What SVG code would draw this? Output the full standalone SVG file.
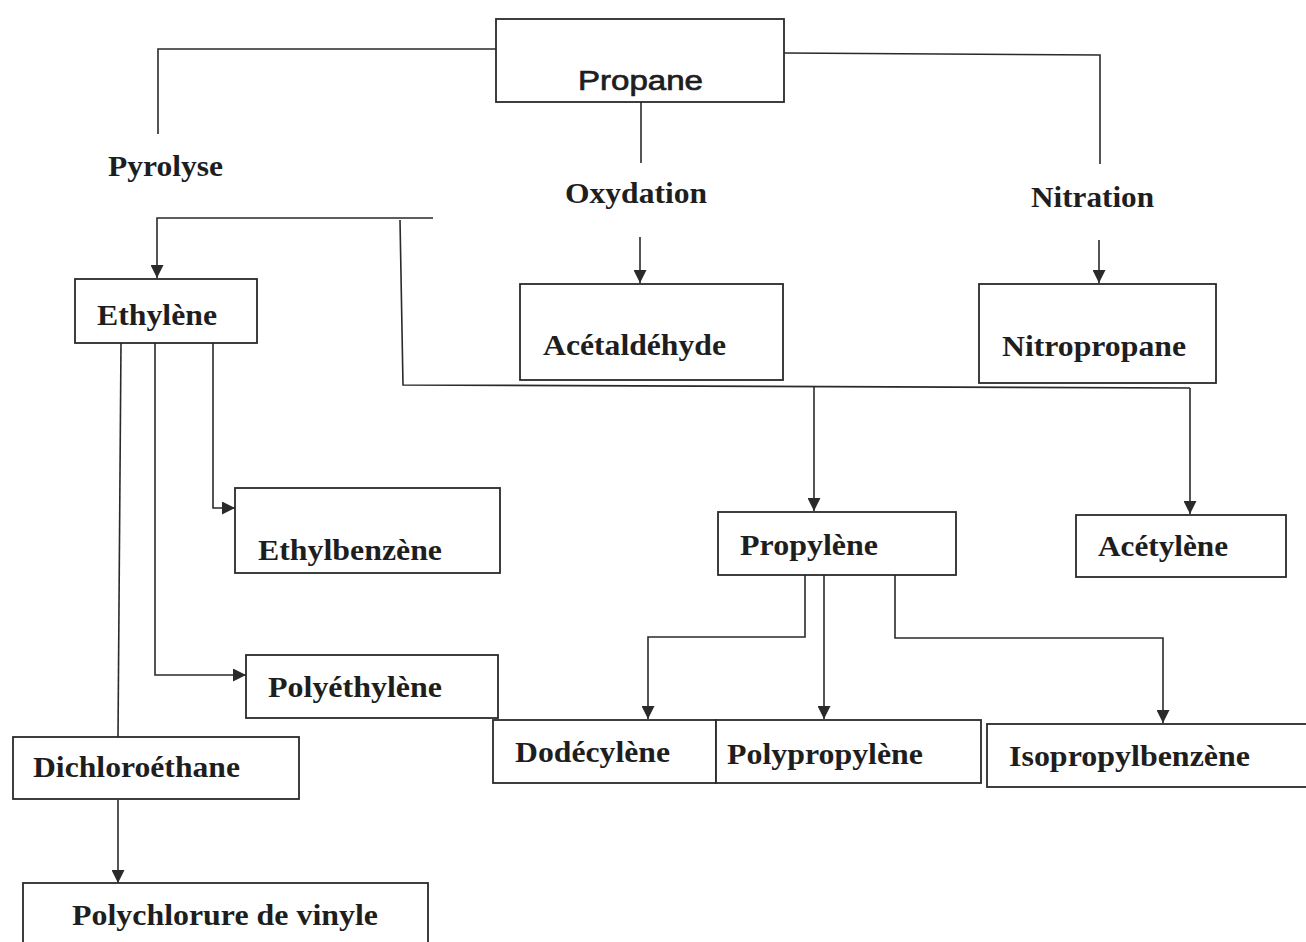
<svg xmlns="http://www.w3.org/2000/svg" width="1306" height="942" viewBox="0 0 1306 942">
<defs>
<style>
.box{fill:#fff;stroke:#2a2a2a;stroke-width:1.8}
.ln{fill:none;stroke:#2a2a2a;stroke-width:1.6}
.t{font-family:"Liberation Serif","Times New Roman",serif;font-weight:bold;font-size:29px;fill:#1e1e1e}
.s{font-family:"Liberation Sans",Arial,sans-serif;font-size:27px;fill:#1e1e1e;stroke:#1e1e1e;stroke-width:0.7}
</style>
<marker id="ah" markerWidth="13" markerHeight="13" refX="10" refY="5" orient="auto" markerUnits="userSpaceOnUse" viewBox="0 0 10 10">
<path d="M0,0 L10,5 L0,10 z" fill="#2a2a2a"/>
</marker>
</defs>
<rect width="1306" height="942" fill="#fff"/>
<g id="connectors">
<path class="ln" d="M496,49 H158 V134"/>
<path class="ln" d="M784,53 L1100,55 V164"/>
<path class="ln" d="M641,102 V163"/>
<path class="ln" d="M640,237 V283" marker-end="url(#ah)"/>
<path class="ln" d="M1099,240 V283" marker-end="url(#ah)"/>
<path class="ln" d="M433,218 H157 V278" marker-end="url(#ah)"/>
<path class="ln" d="M400,220 L403,385 L1190,388"/>
<path class="ln" d="M814,387 V511" marker-end="url(#ah)"/>
<path class="ln" d="M1190,388 V514" marker-end="url(#ah)"/>
<path class="ln" d="M213,343 V508 H235" marker-end="url(#ah)"/>
<path class="ln" d="M155,343 V675 H246" marker-end="url(#ah)"/>
<path class="ln" d="M121,343 L118,737"/>
<path class="ln" d="M118,800 V883" marker-end="url(#ah)"/>
<path class="ln" d="M805,575 V637 H648 V719" marker-end="url(#ah)"/>
<path class="ln" d="M824,575 V719" marker-end="url(#ah)"/>
<path class="ln" d="M895,575 V638 H1163 V723" marker-end="url(#ah)"/>
</g>
<g id="propane"><rect class="box" x="496" y="19" width="288" height="83"/><text class="s" x="578" y="90" textLength="125" lengthAdjust="spacingAndGlyphs">Propane</text></g>
<g id="pyrolyse"><text class="t" x="108" y="176" textLength="115" lengthAdjust="spacingAndGlyphs">Pyrolyse</text></g>
<g id="oxydation"><text class="t" x="565" y="203" textLength="142" lengthAdjust="spacingAndGlyphs">Oxydation</text></g>
<g id="nitration"><text class="t" x="1031" y="207" textLength="123" lengthAdjust="spacingAndGlyphs">Nitration</text></g>
<g id="acetaldehyde"><rect class="box" x="520" y="284" width="263" height="96"/><text class="t" x="543" y="355" textLength="183" lengthAdjust="spacingAndGlyphs">Acétaldéhyde</text></g>
<g id="nitropropane"><rect class="box" x="979" y="284" width="237" height="99"/><text class="t" x="1002" y="356" textLength="184" lengthAdjust="spacingAndGlyphs">Nitropropane</text></g>
<g id="ethylene"><rect class="box" x="75" y="279" width="182" height="64"/><text class="t" x="97" y="325" textLength="120" lengthAdjust="spacingAndGlyphs">Ethylène</text></g>
<g id="ethylbenzene"><rect class="box" x="235" y="488" width="265" height="85"/><text class="t" x="258" y="560" textLength="184" lengthAdjust="spacingAndGlyphs">Ethylbenzène</text></g>
<g id="polyethylene"><rect class="box" x="246" y="655" width="252" height="63"/><text class="t" x="268" y="697" textLength="174" lengthAdjust="spacingAndGlyphs">Polyéthylène</text></g>
<g id="dichloroethane"><rect class="box" x="13" y="737" width="286" height="62"/><text class="t" x="33" y="777" textLength="207" lengthAdjust="spacingAndGlyphs">Dichloroéthane</text></g>
<g id="pvc"><rect class="box" x="23" y="883" width="405" height="80"/><text class="t" x="72" y="925" textLength="306" lengthAdjust="spacingAndGlyphs">Polychlorure de vinyle</text></g>
<g id="propylene"><rect class="box" x="718" y="512" width="238" height="63"/><text class="t" x="740" y="555" textLength="138" lengthAdjust="spacingAndGlyphs">Propylène</text></g>
<g id="acetylene"><rect class="box" x="1076" y="515" width="210" height="62"/><text class="t" x="1098" y="556" textLength="130" lengthAdjust="spacingAndGlyphs">Acétylène</text></g>
<g id="dodecylene"><rect class="box" x="493" y="720" width="223" height="63"/><text class="t" x="515" y="762" textLength="155" lengthAdjust="spacingAndGlyphs">Dodécylène</text></g>
<g id="polypropylene"><rect class="box" x="716" y="720" width="265" height="63"/><text class="t" x="727" y="764" textLength="196" lengthAdjust="spacingAndGlyphs">Polypropylène</text></g>
<g id="isopropylbenzene"><rect class="box" x="987" y="724" width="330" height="63"/><text class="t" x="1009" y="766" textLength="241" lengthAdjust="spacingAndGlyphs">Isopropylbenzène</text></g>
</svg>
